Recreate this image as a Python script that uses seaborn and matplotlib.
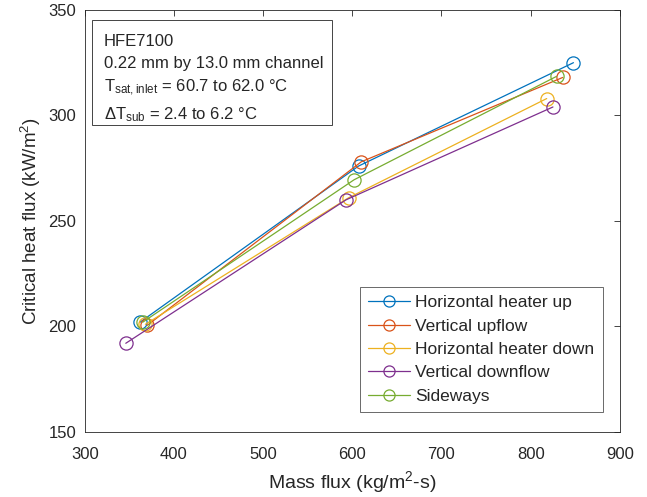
import matplotlib
matplotlib.use("Agg")
import pandas as pd
import matplotlib.pyplot as plt
import matplotlib.patches as mpatches
import seaborn as sns

# mass flux (kg/m2-s) and CHF (kW/m2) for each orientation
hor_up_G = [362, 607, 848]
hor_up_q = [202, 276, 325]
vert_up_G = [370, 610, 836]
vert_up_q = [200.5, 278, 318]
hor_down_G = [368, 596, 818]
hor_down_q = [201, 261, 308]
vert_down_G = [346, 593, 825]
vert_down_q = [192, 260, 304]
side_G = [365, 602, 829]
side_q = [202, 269.5, 318.5]

labels = ["Horizontal heater up", "Vertical upflow", "Horizontal heater down",
          "Vertical downflow", "Sideways"]
colors = ["#0072BD", "#D95319", "#EDB120", "#7E2F8E", "#77AC30"]

series = [(hor_up_G, hor_up_q), (vert_up_G, vert_up_q), (hor_down_G, hor_down_q),
          (vert_down_G, vert_down_q), (side_G, side_q)]

sns.set_theme(style="white")
plt.rcParams['font.family'] = ['Liberation Sans', 'DejaVu Sans']
plt.rcParams['mathtext.fontset'] = 'custom'
plt.rcParams['mathtext.rm'] = 'Liberation Sans'
plt.rcParams['mathtext.it'] = 'Liberation Sans:italic'

fig = plt.figure(figsize=(6.47, 4.97), dpi=100)
ax = fig.add_axes([0.131, 0.131, 0.827, 0.849])

for (G, q), lab, c in zip(series, labels, colors):
    df = pd.DataFrame({"G": G, "q": q})
    sns.lineplot(data=df, x="G", y="q", ax=ax, color=c, label=lab, sort=False,
                 marker="o", markersize=9.5, markerfacecolor="none",
                 markeredgecolor=c, markeredgewidth=0.9, linewidth=0.9)

ax.set_xlim(300, 900)
ax.set_ylim(150, 350)
ax.set_xticks(range(300, 901, 100))
ax.set_yticks(range(150, 351, 50))
ax.tick_params(direction="in", length=4, width=0.6, colors="#262626",
               labelsize=12, top=True, right=True)
ax.tick_params(axis="x", pad=11)
ax.tick_params(axis="y", pad=6)
for s in ax.spines.values():
    s.set_color("#262626")
    s.set_linewidth(0.6)
ax.set_xlabel("Mass flux (kg/m$^2$-s)", fontsize=14, color="#262626", labelpad=5)
ax.set_ylabel("Critical heat flux (kW/m$^2$)", fontsize=13.5, color="#262626")

leg = ax.legend(loc="lower right", bbox_to_anchor=(0.968, 0.047), borderaxespad=0,
                fontsize=12.5, frameon=True, fancybox=False, edgecolor="#262626",
                handlelength=2.4, handletextpad=0.3, labelspacing=0.47, borderpad=0.48)
leg.get_frame().set_linewidth(0.6)
for h in leg.legend_handles:
    h.set_markersize(8)

# annotation box
ax.add_patch(mpatches.Rectangle((0.013, 0.727), 0.449, 0.249, transform=ax.transAxes,
                                fc="white", ec="#262626", lw=0.6, zorder=4))
info = ("HFE7100\n0.22 mm by 13.0 mm channel\n"
        "T$_{\\mathrm{sat,inlet}}$ = 60.7 to 62.0 °C\n"
        "$\\Delta$T$_{\\mathrm{sub}}$ = 2.4 to 6.2 °C")
ax.text(0.036, 0.942, info, transform=ax.transAxes, fontsize=12, va="top",
        ha="left", linespacing=1.52, zorder=5)

fig.savefig("out.png", dpi=100)
